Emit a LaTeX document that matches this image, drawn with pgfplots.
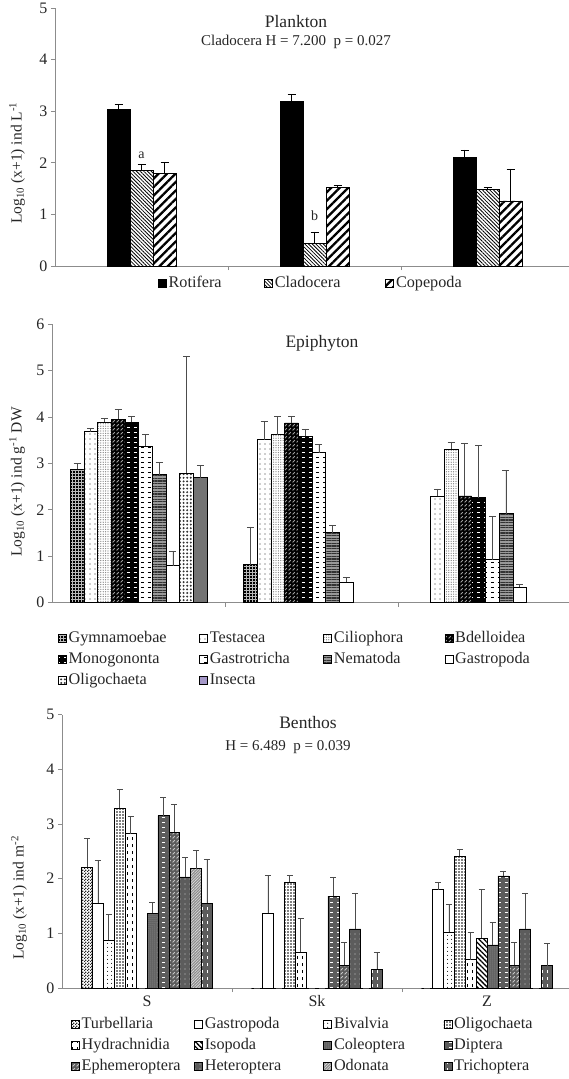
\documentclass[border=0pt]{standalone}
\usepackage{fontspec}
\setmainfont{Liberation Serif}
\usepackage{pgfplots}
\pgfplotsset{compat=1.18}
\usetikzlibrary{patterns,patterns.meta}

\pgfdeclarepatternformonly{hdash}{\pgfqpoint{-1pt}{-1pt}}{\pgfqpoint{8pt}{6pt}}{\pgfqpoint{7pt}{5pt}}{%
  \pgfsetlinewidth{1.2pt}%
  \pgfpathmoveto{\pgfqpoint{0.8pt}{1.5pt}}\pgfpathlineto{\pgfqpoint{4.4pt}{1.5pt}}%
  \pgfusepath{stroke}}
\pgfdeclarepatternformonly{vdash}{\pgfqpoint{-1pt}{-1pt}}{\pgfqpoint{6pt}{8pt}}{\pgfqpoint{5pt}{7pt}}{%
  \pgfsetlinewidth{1.1pt}%
  \pgfpathmoveto{\pgfqpoint{2.5pt}{0.8pt}}\pgfpathlineto{\pgfqpoint{2.5pt}{4.4pt}}%
  \pgfusepath{stroke}}
\pgfdeclarepatternformonly{diagdash}{\pgfqpoint{-1pt}{-1pt}}{\pgfqpoint{5pt}{5pt}}{\pgfqpoint{4pt}{4pt}}{%
  \pgfsetlinewidth{0.9pt}%
  \pgfpathmoveto{\pgfqpoint{0.6pt}{0.6pt}}\pgfpathlineto{\pgfqpoint{2.8pt}{2.8pt}}%
  \pgfusepath{stroke}}
\pgfdeclarepatternformonly{checker}{\pgfqpoint{0pt}{0pt}}{\pgfqpoint{3pt}{3pt}}{\pgfqpoint{3pt}{3pt}}{%
  \pgfpathrectangle{\pgfqpoint{0pt}{0pt}}{\pgfqpoint{1.5pt}{1.5pt}}%
  \pgfpathrectangle{\pgfqpoint{1.5pt}{1.5pt}}{\pgfqpoint{1.5pt}{1.5pt}}%
  \pgfusepath{fill}}

\definecolor{dg}{gray}{0.36}
\definecolor{lav}{RGB}{165,152,200}

\pgfplotsset{
  xl/.style={
    scale only axis,
    axis x line=bottom, axis y line=left,
    axis line style={-, draw=black!45, line width=0.8pt},
    ymin=0, ytick distance=1,
    tick align=outside, major tick length=4pt,
    tick style={draw=black!45, line width=0.8pt},
    xtick={0.5,1.5}, xticklabels={},
    xmin=-0.5,
    ybar=0pt,
    clip=false,
    /pgf/number format/assume math mode=true,
    yticklabel style={font=\fontsize{16}{16}\selectfont, text=black!85},
    error bars/y dir=plus, error bars/y explicit,
    legend cell align=left,
  },
  sq/.style={draw=black, line width=0.6pt, legend image code/.code={\draw[##1] (0pt,-4pt) rectangle (8pt,4pt);}},
  lg/.style={draw=none, fill=none, inner sep=0pt, outer sep=0pt, row sep=6pt,
    nodes={inner xsep=2pt, inner ysep=0pt, text height=11.5pt, text depth=3.5pt, font=\fontsize{16.2}{16.5}\selectfont, text=black!85}},
}
\newcommand{\lb}[2]{\makebox[#1pt][l]{#2}}

\begin{document}
\begin{tikzpicture}
\path (0pt,0pt) rectangle (569pt,-1079pt);

% ---------------- Plankton ----------------
\begin{axis}[xl, at={(55pt,-266pt)}, anchor=south west,
  width=514pt, height=258pt, ymax=5, xmax=2.471, bar width=23pt,
  error bars/error bar style={line width=0.8pt, black},
  error bars/error mark options={rotate=90, line width=0.8pt, black, mark size=4pt},
  legend columns=3,
  legend style={lg, at={(axis description cs:0.2004,-0.0388)}, anchor=north west}]
\addplot[sq, fill=black] coordinates {(0,3.03) +- (0,0.10) (1,3.19) +- (0,0.13) (2,2.10) +- (0,0.15)};
\addlegendentry{\lb{93.6}{Rotifera}}
\addplot[sq, preaction={fill=white}, pattern={Lines[angle=-45,distance=2.6pt,line width=0.8pt]}] coordinates {(0,1.85) +- (0,0.11) (1,0.44) +- (0,0.22) (2,1.48) +- (0,0.04)};
\addlegendentry{\lb{108.6}{Cladocera}}
\addplot[sq, preaction={fill=white}, pattern={Lines[angle=45,distance=6pt,line width=2.3pt]}] coordinates {(0,1.79) +- (0,0.21) (1,1.52) +- (0,0.05) (2,1.26) +- (0,0.62)};
\addlegendentry{Copepoda}
\node[font=\fontsize{14}{14}\selectfont, text=black!85] at (axis cs:0,2.14) {a};
\node[font=\fontsize{14}{14}\selectfont, text=black!85] at (axis cs:1,0.97) {b};
\end{axis}

% ---------------- Epiphyton ----------------
\begin{axis}[xl, at={(52pt,-602.7pt)}, anchor=south west,
  width=517pt, height=278.7pt, ymax=6, xmax=2.482, bar width=13.7pt,
  error bars/error bar style={line width=0.8pt, black!70},
  error bars/error mark options={rotate=90, line width=0.8pt, black!70, mark size=3.5pt},
  legend columns=4,
  legend style={lg, at={(axis description cs:0.0116,-0.102)}, anchor=north west}]
\addplot[sq, preaction={fill=black}, pattern=grid, pattern color=gray!55] coordinates {(0,2.87) +- (0,0.13) (1,0.82) +- (0,0.81)};
\addlegendentry{\lb{128.6}{Gymnamoebae}}
\addplot[sq, preaction={fill=white}, pattern={Dots[distance=5pt,radius=0.6pt]}, pattern color=black!80] coordinates {(0,3.68) +- (0,0.07) (1,3.51) +- (0,0.40) (2,2.29) +- (0,0.16)};
\addlegendentry{\lb{111.6}{Testacea}}
\addplot[sq, preaction={fill=white}, pattern={Dots[distance=2.4pt,radius=0.65pt]}, pattern color=black!50] coordinates {(0,3.89) +- (0,0.07) (1,3.62) +- (0,0.39) (2,3.31) +- (0,0.15)};
\addlegendentry{\lb{108.6}{Ciliophora}}
\addplot[sq, preaction={fill=black}, pattern=diagdash, pattern color=gray!75] coordinates {(0,3.95) +- (0,0.21) (1,3.87) +- (0,0.14) (2,2.30) +- (0,1.14)};
\addlegendentry{Bdelloidea}
\addplot[sq, preaction={fill=black}, pattern=hdash, pattern color=white] coordinates {(0,3.88) +- (0,0.13) (1,3.58) +- (0,0.16) (2,2.26) +- (0,1.12)};
\addlegendentry{\lb{128.6}{Monogononta}}
\addplot[sq, preaction={fill=white}, pattern=hdash, pattern color=black] coordinates {(0,3.37) +- (0,0.25) (1,3.23) +- (0,0.17) (2,0.93) +- (0,0.92)};
\addlegendentry{\lb{111.6}{Gastrotricha}}
\addplot[sq, preaction={fill=black!40}, pattern={Lines[angle=0,distance=2.6pt,line width=1.2pt]}, pattern color=black!80] coordinates {(0,2.76) +- (0,0.25) (1,1.51) +- (0,0.16) (2,1.92) +- (0,0.93)};
\addlegendentry{\lb{108.6}{Nematoda}}
\addplot[sq, fill=white] coordinates {(0,0.80) +- (0,0.31) (1,0.45) +- (0,0.10) (2,0.34) +- (0,0.06)};
\addlegendentry{Gastropoda}
\addplot[sq, preaction={fill=white}, pattern={Dots[distance=3.6pt,radius=1.1pt]}, pattern color=black!80] coordinates {(0,2.79) +- (0,2.51)};
\addlegendentry{\lb{128.6}{Oligochaeta}}
\addplot[sq, fill=black!55, legend image code/.code={\draw[draw=black, line width=0.6pt, fill=lav] (0pt,-4pt) rectangle (8pt,4pt);}] coordinates {(0,2.69) +- (0,0.26)};
\addlegendentry{Insecta}
\end{axis}

% ---------------- Benthos ----------------
\begin{axis}[xl, at={(62pt,-988pt)}, anchor=south west,
  width=507pt, height=273.5pt, ymax=5, xmax=2.482, bar width=10.9pt,
  extra x ticks={0,1,2}, extra x tick labels={S,Sk,Z},
  extra x tick style={major tick length=0pt, tick label style={font=\fontsize{16}{16}\selectfont, text=black!85, yshift=-4pt}},
  error bars/error bar style={line width=0.8pt, black!70},
  error bars/error mark options={rotate=90, line width=0.8pt, black!70, mark size=3pt},
  legend columns=4,
  legend style={lg, at={(axis description cs:0.0178,-0.1060)}, anchor=north west}]
\addplot[sq, preaction={fill=white}, pattern=checker, pattern color=black!85] coordinates {(0,2.21) +- (0,0.52) (1,0) +- (0,0) (2,0) +- (0,0)};
\addlegendentry{\lb{110.6}{Turbellaria}}
\addplot[sq, fill=white] coordinates {(0,1.55) +- (0,0.79) (1,1.37) +- (0,0.69) (2,1.80) +- (0,0.13)};
\addlegendentry{\lb{116.6}{Gastropoda}}
\addplot[sq, preaction={fill=white}, pattern={Dots[distance=4pt,radius=0.6pt]}, pattern color=black] coordinates {(0,0.87) +- (0,0.47) (1,0) +- (0,0) (2,1.02) +- (0,0.50)};
\addlegendentry{\lb{107.6}{Bivalvia}}
\addplot[sq, preaction={fill=white}, pattern={Dots[distance=3pt,radius=0.95pt]}, pattern color=black] coordinates {(0,3.29) +- (0,0.34) (1,1.94) +- (0,0.11) (2,2.41) +- (0,0.13)};
\addlegendentry{Oligochaeta}
\addplot[sq, preaction={fill=white}, pattern=vdash, pattern color=black] coordinates {(0,2.82) +- (0,0.31) (1,0.65) +- (0,0.62) (2,0.52) +- (0,0.50)};
\addlegendentry{\lb{110.6}{Hydrachnidia}}
\addplot[sq, preaction={fill=white}, pattern={Lines[angle=-45,distance=3.5pt,line width=1.3pt]}, pattern color=black] coordinates {(0,0) +- (0,0) (1,0) +- (0,0) (2,0.91) +- (0,0.89)};
\addlegendentry{\lb{116.6}{Isopoda}}
\addplot[sq, preaction={fill=dg}, pattern={Dots[distance=2pt,radius=0.5pt]}, pattern color=gray!60] coordinates {(0,1.37) +- (0,0.20) (1,0) +- (0,0) (2,0.79) +- (0,0.41)};
\addlegendentry{\lb{107.6}{Coleoptera}}
\addplot[sq, preaction={fill=dg}, pattern=hdash, pattern color=white] coordinates {(0,3.15) +- (0,0.33) (1,1.68) +- (0,0.35) (2,2.05) +- (0,0.09)};
\addlegendentry{Diptera}
\addplot[sq, preaction={fill=dg}, pattern=diagdash, pattern color=gray!45] coordinates {(0,2.85) +- (0,0.50) (1,0.42) +- (0,0.42) (2,0.42) +- (0,0.42)};
\addlegendentry{\lb{110.6}{Ephemeroptera}}
\addplot[sq, preaction={fill=dg}, pattern={Dots[distance=5pt,radius=0.7pt]}, pattern color=gray!40] coordinates {(0,2.03) +- (0,0.35) (1,1.08) +- (0,0.65) (2,1.08) +- (0,0.65)};
\addlegendentry{\lb{116.6}{Heteroptera}}
\addplot[sq, preaction={fill=black!45}, pattern={Lines[angle=45,distance=2pt,line width=0.6pt]}, pattern color=gray!25] coordinates {(0,2.18) +- (0,0.34) (1,0) +- (0,0) (2,0) +- (0,0)};
\addlegendentry{\lb{107.6}{Odonata}}
\addplot[sq, preaction={fill=dg}, pattern=vdash, pattern color=white] coordinates {(0,1.55) +- (0,0.81) (1,0.34) +- (0,0.31) (2,0.41) +- (0,0.41)};
\addlegendentry{Trichoptera}
\end{axis}

% titles and axis titles
\node[font=\fontsize{17.5}{17.5}\selectfont, text=black!85] at (296pt,-22pt) {Plankton};
\node[font=\fontsize{15}{15}\selectfont, text=black!85] at (296pt,-42pt) {Cladocera H = 7.200\ \ p = 0.027};
\node[font=\fontsize{17.5}{17.5}\selectfont, text=black!85] at (322pt,-343pt) {Epiphyton};
\node[font=\fontsize{17.5}{17.5}\selectfont, text=black!85] at (308pt,-723pt) {Benthos};
\node[font=\fontsize{15}{15}\selectfont, text=black!85] at (288pt,-747pt) {H = 6.489\ \ p = 0.039};
\node[rotate=90, font=\fontsize{15.5}{15.5}\selectfont, text=black!85] at (17pt,-163pt) {Log\textsubscript{10} (x+1) ind L\textsuperscript{-1}};
\node[rotate=90, font=\fontsize{15.5}{15.5}\selectfont, text=black!85] at (17pt,-482pt) {Log\textsubscript{10} (x+1) ind g\textsuperscript{-1} DW};
\node[rotate=90, font=\fontsize{15.5}{15.5}\selectfont, text=black!85] at (19pt,-898pt) {Log\textsubscript{10} (x+1) ind m\textsuperscript{-2}};

\pgfresetboundingbox
\path[use as bounding box] (0pt,0pt) rectangle (569pt,-1079pt);
\end{tikzpicture}
\end{document}
